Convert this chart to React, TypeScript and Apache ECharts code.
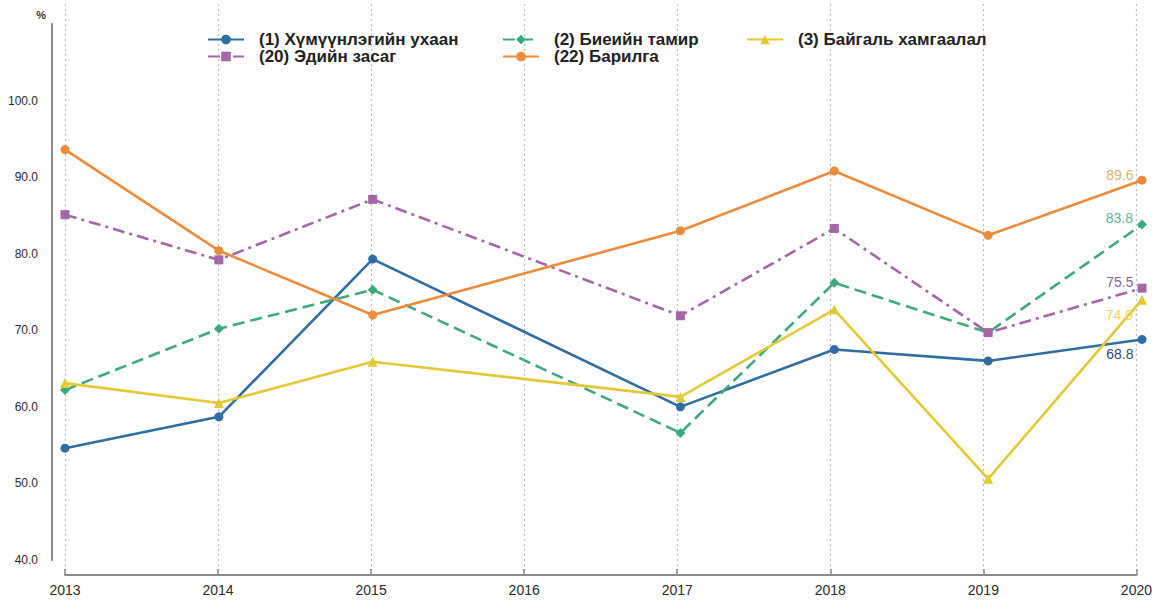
import React, { useEffect, useRef } from "react";
import * as echarts from "echarts";

const years = ["2013", "2014", "2015", "2016", "2017", "2018", "2019", "2020"];
const yTicks = [40, 50, 60, 70, 80, 90, 100];

const names = [
  "(1) Хүмүүнлэгийн ухаан",
  "(2) Биеийн тамир",
  "(3) Байгаль хамгаалал",
  "(20) Эдийн засаг",
  "(22) Барилга",
];

const humanities = [54.6, 58.7, 79.3, null, 60.0, 67.5, 66.0, 68.8];
const physical = [62.2, 70.2, 75.3, null, 56.6, 76.2, 69.7, 83.8];
const ecology = [63.1, 60.5, 65.9, null, 61.3, 72.7, 50.6, 74.0];
const economics = [85.1, 79.2, 87.1, null, 71.9, 83.3, 69.7, 75.5];
const construction = [93.6, 80.4, 72.0, null, 83.0, 90.8, 82.4, 89.6];

const FONT = "Liberation Sans, Arial, sans-serif";

export default function App() {
  const ref = useRef<HTMLDivElement>(null);

  useEffect(() => {
    document.body.style.margin = "0";
    if (!ref.current) return;
    const chart = echarts.init(ref.current, undefined, { renderer: "svg" });

    const mk = (
      name: string,
      values: (number | null)[],
      color: string,
      symbol: string,
      lineType: any,
      labelColor: string,
      labelOffsetY: number
    ) => ({
      name,
      type: "line",
      xAxisIndex: 0,
      yAxisIndex: 0,
      connectNulls: true,
      symbol,
      symbolSize: symbol === "triangle" ? 10 : symbol === "diamond" ? 10 : 9,
      lineStyle: { color, width: 2.6, type: lineType },
      itemStyle: { color },
      data: values.map((v, i) =>
        i === values.length - 1 && v != null
          ? {
              value: v,
              label: {
                show: true,
                position: "left",
                distance: 4,
                offset: [0, labelOffsetY],
                formatter: (p: any) => Number(p.value).toFixed(1),
                color: labelColor,
                fontSize: 14,
                fontFamily: FONT,
              },
            }
          : v
      ),
      z: 3,
    });

    const legendBase = {
      orient: "vertical",
      top: 26,
      itemWidth: 36,
      itemHeight: 12,
      itemGap: 0,
      textStyle: {
        fontSize: 17,
        fontWeight: "bold",
        fontFamily: FONT,
        color: "#222",
        lineHeight: 17,
        padding: [0, 0, 0, 10],
      },
    };

    chart.setOption({
      animation: false,
      backgroundColor: "#ffffff",
      legend: [
        { ...legendBase, left: 202, data: [names[0], names[3]] },
        { ...legendBase, left: 497, data: [names[1], names[4]] },
        { ...legendBase, left: 741, data: [names[2]] },
      ],
      grid: [
        { left: 65, right: 13, top: 24, bottom: 40 },
        { left: 65, right: 13, top: 4, bottom: 25 },
      ],
      xAxis: [
        {
          type: "category",
          gridIndex: 0,
          data: years,
          boundaryGap: false,
          show: false,
        },
        {
          type: "category",
          gridIndex: 1,
          data: years,
          boundaryGap: false,
          axisLine: { show: true, lineStyle: { color: "#8a8a8a", width: 2 } },
          axisTick: { show: true, inside: true, length: 6, lineStyle: { color: "#8a8a8a", width: 1.5 } },
          axisLabel: {
            color: "#2a2a2a",
            fontSize: 14,
            fontFamily: FONT,
            margin: 8,
          },
          splitLine: {
            show: true,
            lineStyle: { color: "#bdbdbd", type: [2, 3], width: 1.2 },
          },
        },
      ],
      yAxis: [
        {
          type: "value",
          gridIndex: 0,
          min: 40,
          max: 110,
          interval: 10,
          offset: 13,
          name: "%",
          nameLocation: "end",
          nameGap: 4,
          nameTextStyle: {
            fontSize: 11,
            fontWeight: "bold",
            color: "#333",
            fontFamily: FONT,
            align: "right",
            padding: [0, 6, 0, 0],
          },
          axisLine: { show: true, lineStyle: { color: "#8a8a8a", width: 2 } },
          axisTick: { show: false },
          splitLine: { show: false },
          axisLabel: {
            color: "#2a2a2a",
            fontSize: 12,
            fontFamily: FONT,
            margin: 14,
            formatter: (v: number) => (yTicks.includes(v) ? v.toFixed(1) : ""),
          },
        },
        {
          type: "value",
          gridIndex: 1,
          show: false,
          min: 0,
          max: 1,
          splitLine: { show: false },
        },
      ],
      series: [
        mk(names[0], humanities, "#2f6da4", "circle", "solid", "#34496a", 15),
        mk(names[1], physical, "#3da97e", "diamond", [12, 6], "#5fb39a", -7),
        mk(names[2], ecology, "#e3c935", "triangle", "solid", "#e6d66a", 15),
        mk(names[3], economics, "#a466a8", "rect", [12, 5, 3, 5], "#85678a", -6),
        mk(names[4], construction, "#ec8b3b", "circle", "solid", "#d9b46e", -5),
      ],
    });

    return () => chart.dispose();
  }, []);

  return <div ref={ref} style={{ width: 1155, height: 600 }} />;
}
